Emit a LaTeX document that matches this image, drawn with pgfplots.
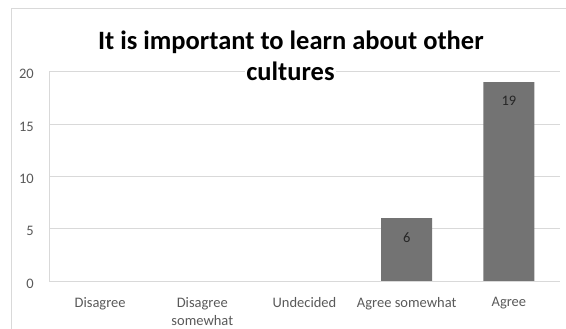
\documentclass[border=0pt]{standalone}
\usepackage{pgfplots}
\pgfplotsset{compat=1.18}
\usepackage{fontspec}
\setmainfont{Carlito}
\definecolor{gridgray}{HTML}{D9D9D9}
\definecolor{bargray}{HTML}{737373}
\definecolor{labgray}{HTML}{595959}
\definecolor{datagray}{HTML}{262626}
\begin{document}
\begin{tikzpicture}[x=1pt,y=1pt]
\useasboundingbox (0,0) rectangle (566,329);
\draw[gridgray, line width=1pt] (11.7,-5) -- (11.7,320.5) -- (600,320.5);
\begin{axis}[
  at={(49pt,48pt)}, anchor=south west,
  scale only axis, width=511pt, height=209.3pt,
  xmin=-0.5, xmax=4.5, ymin=0, ymax=20,
  ytick={0,5,10,15,20},
  xtick={0,1,2,3,4},
  xticklabels={Disagree, {Disagree\\somewhat}, Undecided, Agree somewhat, Agree},
  ymajorgrids, grid style={gridgray, line width=0.8pt},
  axis x line*=bottom, axis y line*=left,
  axis line style={gridgray, line width=0.8pt, -},
  major tick length=0pt,
  tick style={draw=none},
  /pgf/number format/assume math mode=true,
  tick label style={font=\fontsize{14.5}{17.5}\selectfont, text=labgray},
  xticklabel style={anchor=north, inner sep=0pt, yshift=-16.5pt, align=center},
  yticklabel style={anchor=east, inner sep=0pt, xshift=-15pt, yshift=-2.5pt},
  ybar, bar width=51pt,
  clip=false,
]
% Disagree, Disagree somewhat, Undecided have 0 responses (no bar, no label)
\addplot[fill=bargray, draw=none,
  restrict y to domain=0.5:100,
  nodes near coords,
  every node near coord/.append style={anchor=center, yshift=-19pt, font=\fontsize{14.5}{17.5}\selectfont, text=datagray}]
  coordinates {(0,0) (1,0) (2,0) (3,6) (4,19)};
\end{axis}
\node[anchor=base, font=\fontsize{26.5}{31}\selectfont\bfseries, inner sep=0pt] at (290.8,279) {It is important to learn about other};
\node[anchor=base, font=\fontsize{26.5}{31}\selectfont\bfseries, fill=white, inner xsep=1.5pt, inner ysep=0.5pt] at (290.5,248) {cultures};
\end{tikzpicture}
\end{document}
